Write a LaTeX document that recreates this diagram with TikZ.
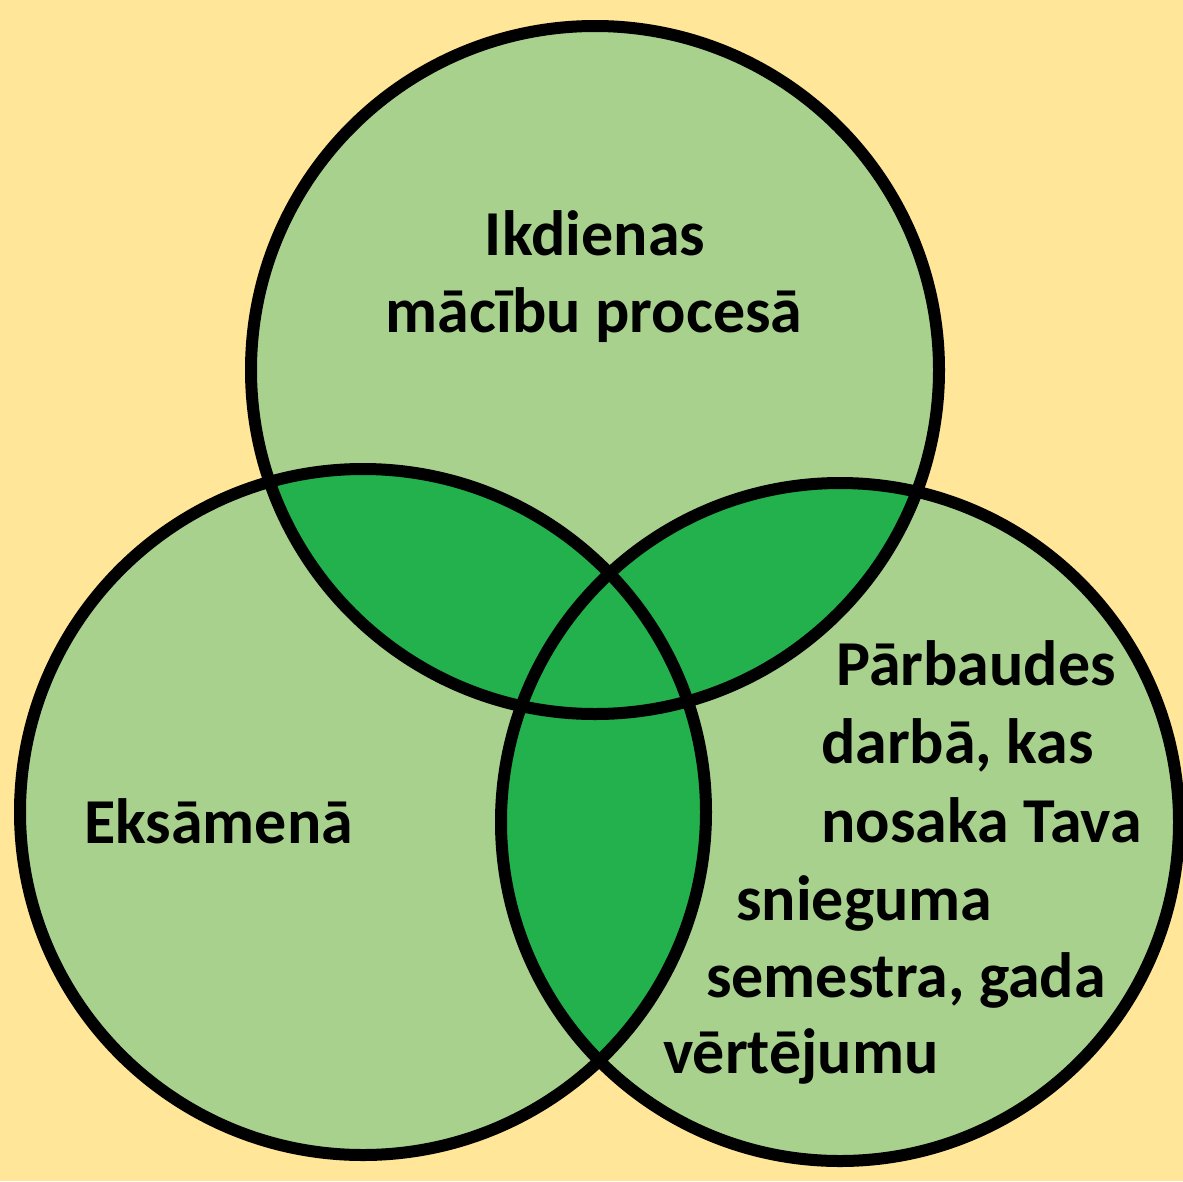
\documentclass[tikz,border=0pt]{standalone}
\usepackage{fontspec}
\setmainfont{Carlito}
\definecolor{bgyellow}{HTML}{FFE699}
\definecolor{lightgreen}{HTML}{A9D18E}
\definecolor{darkgreen}{HTML}{22B14C}
\begin{document}
\begin{tikzpicture}[x=1pt,y=-1pt,
  ring/.style={draw=black,line width=12pt},
  label/.style={inner sep=0pt,font=\bfseries\fontsize{64}{77}\selectfont,text=black}]
\useasboundingbox (0,0) rectangle (1183,1181);
\fill[bgyellow] (0,0) rectangle (1183,1181);
% circle centres
\coordinate (T) at (595,370);
\coordinate (L) at (363,812);
\coordinate (R) at (840,822);
\def\rT{344}\def\rL{343}\def\rR{339}
% base fills
\fill[lightgreen] (T) circle[radius=\rT];
\fill[lightgreen] (L) circle[radius=\rL];
\fill[lightgreen] (R) circle[radius=\rR];
% pairwise overlaps
\begin{scope}
  \clip (T) circle[radius=\rT];
  \fill[darkgreen] (L) circle[radius=\rL];
  \fill[darkgreen] (R) circle[radius=\rR];
\end{scope}
\begin{scope}
  \clip (L) circle[radius=\rL];
  \fill[darkgreen] (R) circle[radius=\rR];
\end{scope}
% outlines
\draw[ring] (T) circle[radius=\rT];
\draw[ring] (L) circle[radius=\rL];
\draw[ring] (R) circle[radius=\rR];
% texts
\node[label,anchor=base] (t1) at (595,255) {Ikdienas};
\node[label,anchor=base] (t2) at (594,332) {mācību procesā};
\node[label,anchor=base west] (e1) at (84,843) {Eksāmenā};
\node[label,anchor=base west] (p1) at (836,685) {Pārbaudes};
\node[label,anchor=base west] (p2) at (821,763) {darbā, kas};
\node[label,anchor=base west] (p3) at (821,842) {nosaka Tava};
\node[label,anchor=base west] (p4) at (736,920) {snieguma};
\node[label,anchor=base west] (p5) at (706,997) {semestra, gada};
\node[label,anchor=base west] (p6) at (663,1073) {vērtējumu};
\end{tikzpicture}
\end{document}
